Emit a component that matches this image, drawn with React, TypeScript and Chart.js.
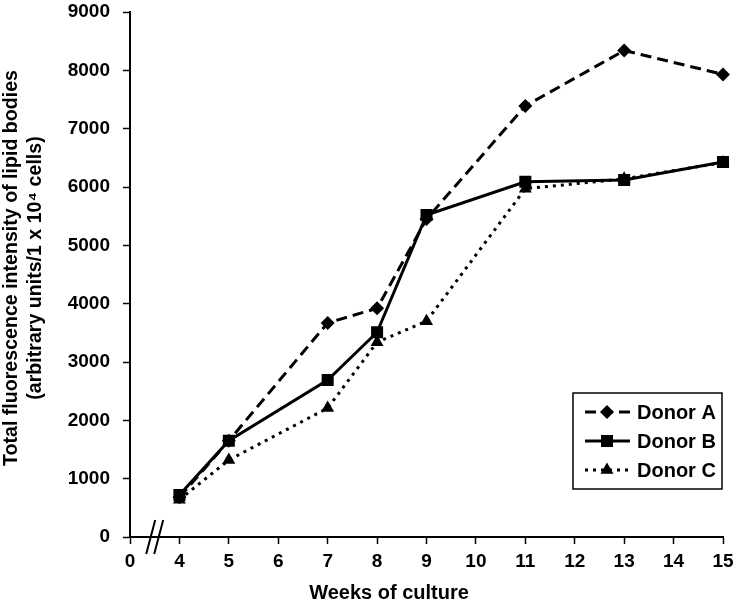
import React, { useEffect, useRef } from "react";
import { Chart, registerables } from "chart.js";

Chart.register(...registerables);

const weekLabels = ["0", "4", "5", "6", "7", "8", "9", "10", "11", "12", "13", "14", "15"];
const sampleWeeks = ["4", "5", "7", "8", "9", "11", "13", "15"];
const donorA = [680, 1650, 3670, 3920, 5450, 7390, 8340, 7930];
const donorB = [720, 1650, 2690, 3510, 5520, 6090, 6120, 6430];
const donorC = [640, 1320, 2210, 3340, 3700, 5970, 6140, 6420];
const seriesNames = ["Donor A", "Donor B", "Donor C"];
const xTitle = "Weeks of culture";
const yTitle = ["Total fluorescence intensity of lipid bodies", "(arbitrary units/1 x 10\u2074 cells)"];
const yMin = 0;
const yMax = 9000;
const yStep = 1000;

const FONT = '"Liberation Sans", Arial, sans-serif';

const toPoints = (vals: number[]) => sampleWeeks.map((w, i) => ({ x: w, y: vals[i] }));

const styles = [
  { dash: [11, 6], pointStyle: "rectRot", radius: 7 },
  { dash: [], pointStyle: "rect", radius: 8.5 },
  { dash: [3, 5], pointStyle: "triangle", radius: 7.5 },
];

const axisBreakPlugin = {
  id: "axisBreak",
  afterDraw(chart: any) {
    const ctx = chart.ctx;
    const x = chart.scales.x;
    const p0 = x.getPixelForValue(0);
    const p1 = x.getPixelForValue(1);
    const mid = (p0 + p1) / 2;
    const yb = chart.chartArea.bottom;
    ctx.save();
    ctx.strokeStyle = "#000";
    ctx.lineWidth = 2;
    ctx.beginPath();
    for (const off of [-4, 4]) {
      ctx.moveTo(mid + off - 4.5, yb + 17);
      ctx.lineTo(mid + off + 4.5, yb - 17);
    }
    ctx.stroke();
    ctx.restore();
  },
};

const titlesPlugin = {
  id: "titles",
  afterDraw(chart: any) {
    const ctx = chart.ctx;
    ctx.save();
    ctx.fillStyle = "#000";
    ctx.font = `bold 20px ${FONT}`;
    ctx.textAlign = "center";
    ctx.textBaseline = "middle";
    ctx.fillText(xTitle, 389, 593);
    ctx.translate(0, 268);
    ctx.rotate(-Math.PI / 2);
    ctx.font = `bold 19.6px ${FONT}`;
    ctx.fillText(yTitle[0], 0, 12);
    ctx.fillText(yTitle[1], 0, 36);
    ctx.restore();
  },
};

function drawMarker(ctx: CanvasRenderingContext2D, style: string, x: number, y: number, r: number) {
  ctx.save();
  ctx.fillStyle = "#000";
  ctx.beginPath();
  if (style === "rectRot") {
    ctx.moveTo(x, y - r);
    ctx.lineTo(x + r, y);
    ctx.lineTo(x, y + r);
    ctx.lineTo(x - r, y);
  } else if (style === "rect") {
    const s = Math.SQRT1_2 * r;
    ctx.rect(x - s, y - s, 2 * s, 2 * s);
  } else {
    ctx.moveTo(x, y - r);
    ctx.lineTo(x + r * Math.sin((2 * Math.PI) / 3), y - r * Math.cos((2 * Math.PI) / 3));
    ctx.lineTo(x + r * Math.sin((4 * Math.PI) / 3), y - r * Math.cos((4 * Math.PI) / 3));
  }
  ctx.closePath();
  ctx.fill();
  ctx.restore();
}

const legendPlugin = {
  id: "customLegend",
  afterDraw(chart: any) {
    const ctx = chart.ctx;
    const bx = 573, by = 393, bw = 149, bh = 96;
    ctx.save();
    ctx.fillStyle = "#fff";
    ctx.fillRect(bx, by, bw, bh);
    ctx.strokeStyle = "#000";
    ctx.lineWidth = 1.5;
    ctx.strokeRect(bx, by, bw, bh);
    const rows = [412, 441, 470];
    chart.data.datasets.forEach((ds: any, i: number) => {
      const y = rows[i];
      ctx.save();
      ctx.strokeStyle = "#000";
      ctx.lineWidth = 3;
      ctx.setLineDash(styles[i].dash);
      ctx.beginPath();
      ctx.moveTo(585, y);
      ctx.lineTo(630, y);
      ctx.stroke();
      ctx.restore();
      drawMarker(ctx, styles[i].pointStyle, 607, y, styles[i].radius);
      ctx.fillStyle = "#000";
      ctx.font = `bold 20px ${FONT}`;
      ctx.textBaseline = "middle";
      ctx.textAlign = "left";
      ctx.fillText(ds.label, 637, y + 1);
    });
    ctx.restore();
  },
};

export default function App() {
  const ref = useRef<HTMLCanvasElement | null>(null);
  useEffect(() => {
    if (!ref.current) return;
    const all = [donorA, donorB, donorC];
    const chart = new Chart(ref.current, {
      type: "line",
      data: {
        labels: weekLabels,
        datasets: all.map((vals, i) => ({
          label: seriesNames[i],
          data: toPoints(vals) as any,
          borderColor: "#000",
          backgroundColor: "#000",
          borderWidth: 3,
          borderDash: styles[i].dash,
          pointStyle: styles[i].pointStyle as any,
          pointRadius: styles[i].radius,
          pointBorderWidth: 0,
          pointBackgroundColor: "#000",
          tension: 0,
          fill: false,
        })),
      },
      options: {
        animation: false,
        responsive: true,
        maintainAspectRatio: false,
        layout: { padding: { top: 12, right: 15, left: 0, bottom: 0 } },
        plugins: { legend: { display: false }, tooltip: { enabled: false } },
        scales: {
          x: {
            type: "category",
            offset: false,
            grid: { drawOnChartArea: false, drawTicks: true, tickLength: 7, tickWidth: 1.5, tickColor: "#000" },
            border: { display: true, color: "#000", width: 2 },
            ticks: { color: "#000", font: { family: FONT, size: 19, weight: "bold" }, padding: 6, maxRotation: 0, autoSkip: false },
            title: { display: false },
            afterFit: (s: any) => { s.height = 66; s.paddingLeft = 0; s.paddingRight = 0; },
          },
          y: {
            min: yMin,
            max: yMax,
            grid: { drawOnChartArea: false, drawTicks: true, tickLength: 7, tickWidth: 1.5, tickColor: "#000" },
            border: { display: true, color: "#000", width: 2 },
            ticks: {
              stepSize: yStep,
              color: "#000",
              font: { family: FONT, size: 19, weight: "bold" },
              padding: 13,
              callback: (v: any) => String(v),
            },
            title: { display: false },
            afterFit: (s: any) => { s.width = 130; s.paddingTop = 0; s.paddingBottom = 0; },
          },
        },
      },
      plugins: [axisBreakPlugin, titlesPlugin, legendPlugin],
    });
    return () => chart.destroy();
  }, []);
  return (
    <div style={{ position: "fixed", left: 0, top: 0, width: 738, height: 603, background: "#fff" }}>
      <canvas ref={ref} />
    </div>
  );
}
